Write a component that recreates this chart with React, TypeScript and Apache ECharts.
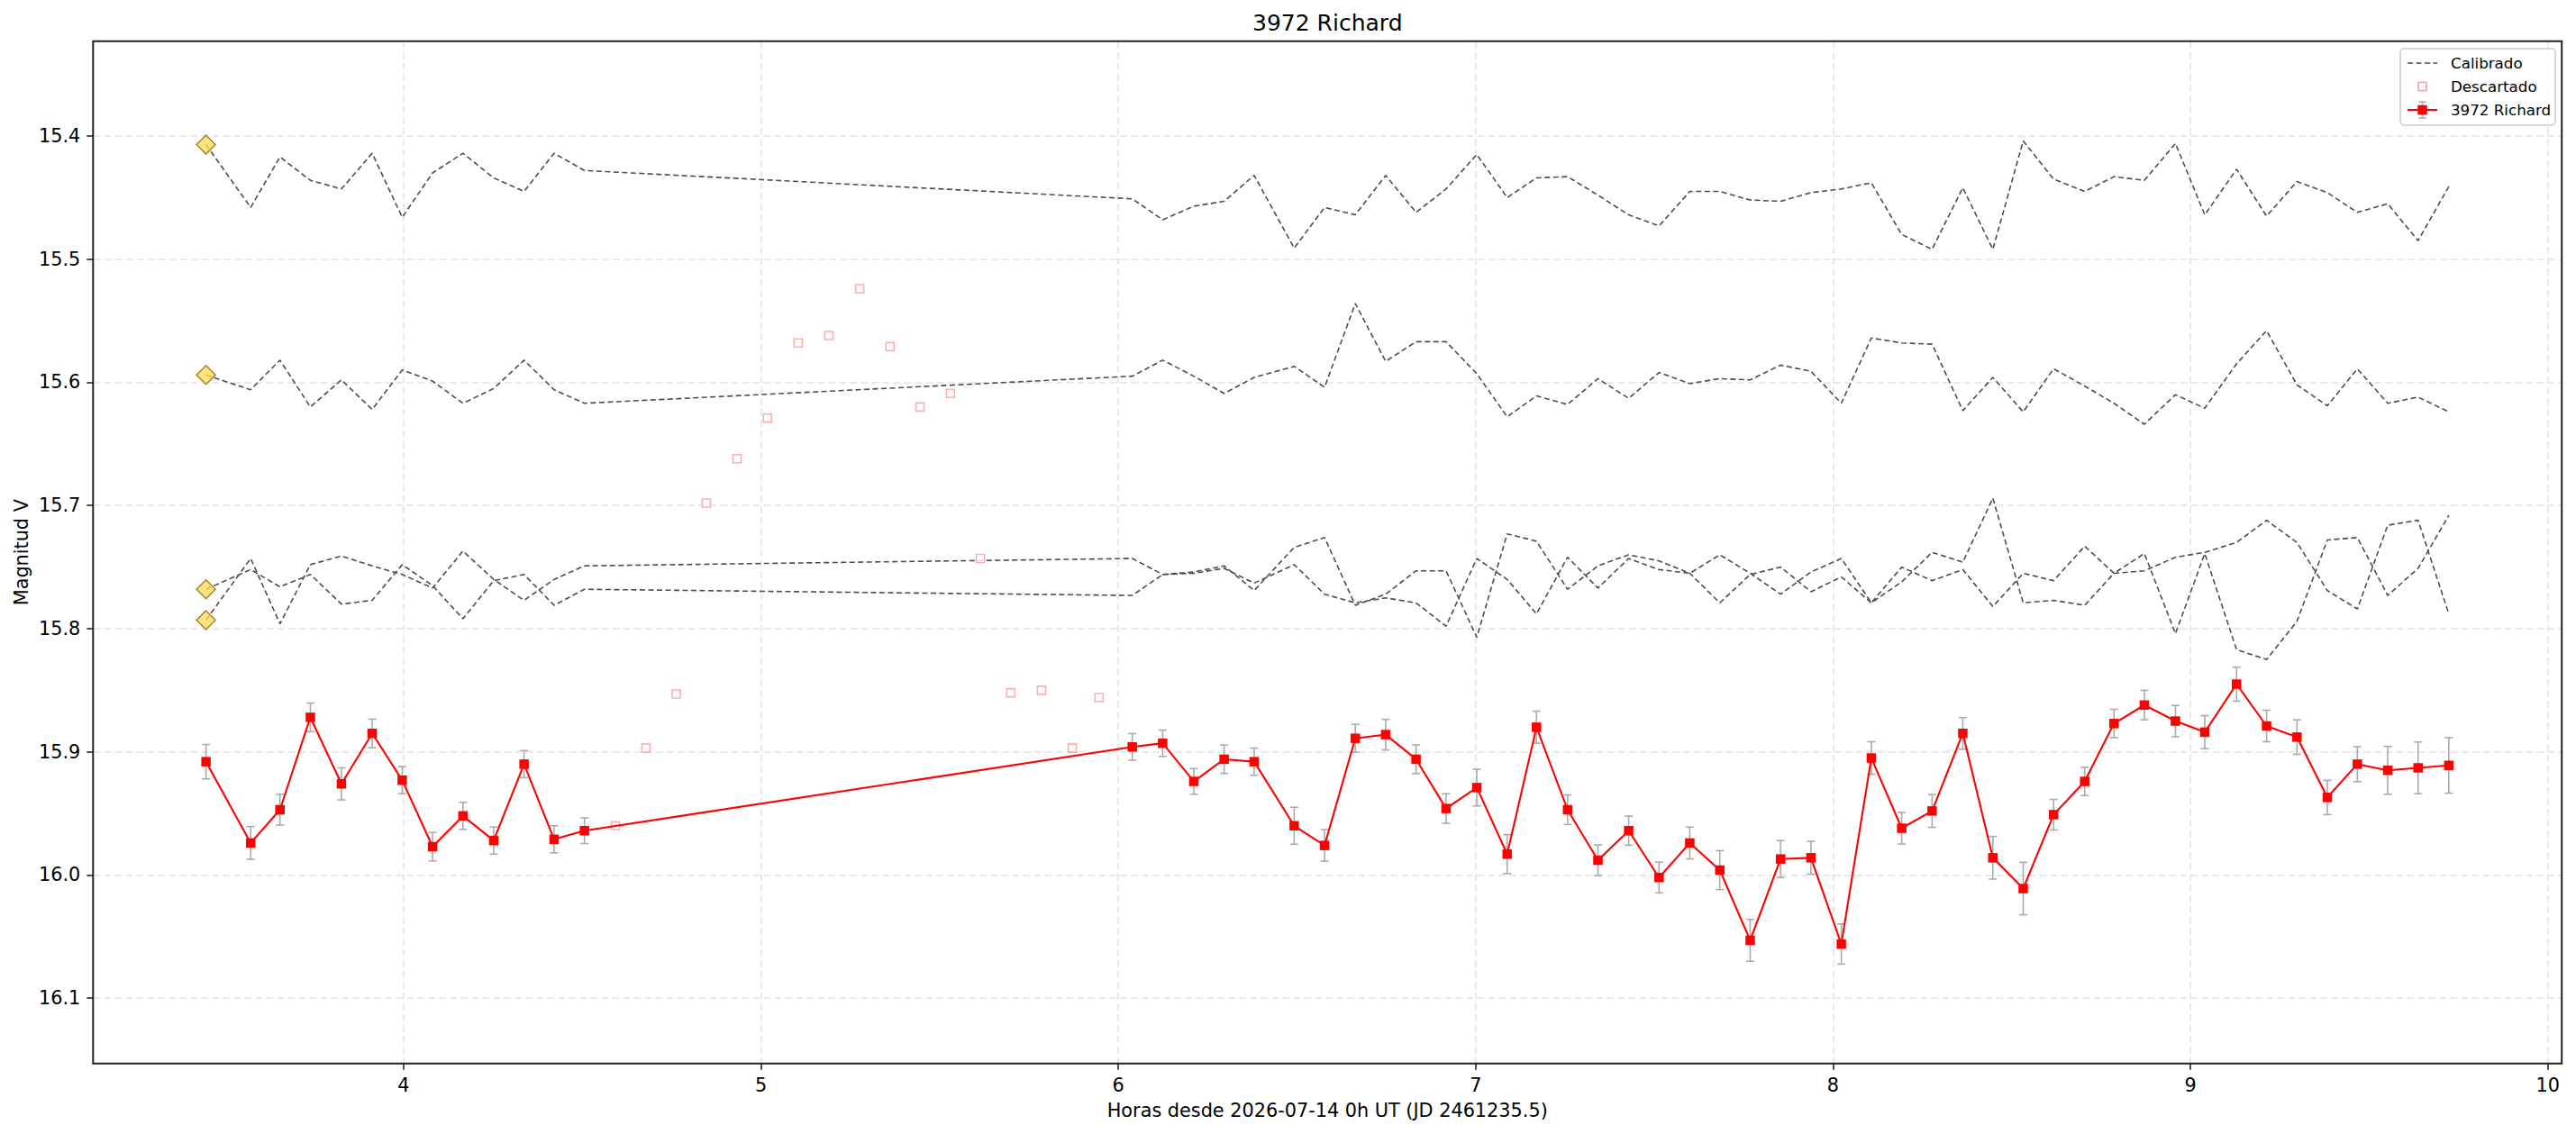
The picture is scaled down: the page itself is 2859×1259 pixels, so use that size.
import React, { useEffect, useRef } from "react";
import * as echarts from "echarts";

const hours = [
  3.447, 3.572, 3.654, 3.739, 3.826, 3.912, 3.996, 4.081, 4.166, 4.252, 4.337, 4.421, 4.506,
  6.039, 6.124, 6.211, 6.296, 6.380, 6.492, 6.577, 6.663, 6.748, 6.833, 6.917, 7.003, 7.088, 7.170, 7.257, 7.342, 7.428, 7.513, 7.599, 7.683, 7.768, 7.853,
  7.938, 8.023, 8.107, 8.192, 8.277, 8.363, 8.447, 8.532, 8.617, 8.704, 8.786, 8.871, 8.958, 9.040, 9.129, 9.213, 9.298, 9.383, 9.467, 9.552, 9.637, 9.723,
];

const richardMag = [
  15.908, 15.974, 15.947, 15.872, 15.926, 15.885, 15.923, 15.977, 15.952, 15.972, 15.910, 15.971, 15.964,
  15.896, 15.893, 15.924, 15.906, 15.908, 15.960, 15.976, 15.889, 15.886, 15.906, 15.946, 15.929, 15.983, 15.880, 15.947, 15.988, 15.964, 16.002, 15.974, 15.996, 16.053, 15.987,
  15.986, 16.056, 15.905, 15.962, 15.948, 15.885, 15.986, 16.011, 15.951, 15.924, 15.877, 15.862, 15.875, 15.884, 15.845, 15.879, 15.888, 15.937, 15.910, 15.915, 15.913, 15.911,
];

const richardErr = [
  0.014, 0.0133, 0.0125, 0.0116, 0.013, 0.0116, 0.011, 0.0115, 0.011, 0.011, 0.011, 0.011, 0.0104,
  0.0108, 0.0107, 0.0104, 0.0115, 0.011, 0.015, 0.0128, 0.0113, 0.0124, 0.0116, 0.012, 0.0149, 0.0158, 0.013, 0.012, 0.0125, 0.0118, 0.0125, 0.0129, 0.0158, 0.017, 0.015,
  0.0133, 0.0163, 0.0132, 0.0128, 0.0133, 0.0128, 0.0173, 0.0213, 0.0124, 0.0115, 0.0115, 0.012, 0.0127, 0.0134, 0.0138, 0.0128, 0.014, 0.0139, 0.0142, 0.0194, 0.021, 0.0225,
];

const calA = [
  15.407, 15.458, 15.417, 15.436, 15.443, 15.414, 15.466, 15.430, 15.414, 15.434, 15.445, 15.414, 15.428,
  15.451, 15.468, 15.457, 15.453, 15.432, 15.491, 15.458, 15.464, 15.432, 15.462, 15.443, 15.415, 15.450, 15.434, 15.433, 15.448, 15.464, 15.473, 15.445, 15.445, 15.452, 15.453,
  15.446, 15.443, 15.438, 15.480, 15.492, 15.442, 15.492, 15.404, 15.435, 15.445, 15.433, 15.436, 15.406, 15.464, 15.427, 15.465, 15.437, 15.446, 15.462, 15.455, 15.485, 15.441,
];

const calB = [
  15.594, 15.606, 15.582, 15.620, 15.598, 15.622, 15.590, 15.599, 15.617, 15.605, 15.582, 15.606, 15.617,
  15.595, 15.582, 15.595, 15.609, 15.596, 15.587, 15.604, 15.536, 15.583, 15.567, 15.567, 15.593, 15.628, 15.611, 15.618, 15.597, 15.613, 15.592, 15.601, 15.597, 15.598, 15.586,
  15.591, 15.617, 15.564, 15.568, 15.569, 15.623, 15.596, 15.624, 15.589, 15.603, 15.617, 15.634, 15.610, 15.621, 15.585, 15.558, 15.602, 15.619, 15.589, 15.617, 15.612, 15.624,
];

const calC = [
  15.768, 15.752, 15.766, 15.756, 15.780, 15.777, 15.748, 15.765, 15.792, 15.761, 15.756, 15.781, 15.768,
  15.773, 15.756, 15.755, 15.751, 15.763, 15.748, 15.772, 15.779, 15.775, 15.779, 15.798, 15.743, 15.760, 15.788, 15.742, 15.767, 15.743, 15.752, 15.755, 15.740, 15.755, 15.772,
  15.754, 15.743, 15.779, 15.750, 15.761, 15.752, 15.782, 15.755, 15.761, 15.733, 15.755, 15.739, 15.804, 15.739, 15.817, 15.825, 15.794, 15.728, 15.726, 15.773, 15.751, 15.708,
];

const calD = [
  15.793, 15.743, 15.796, 15.748, 15.741, 15.749, 15.756, 15.767, 15.737, 15.760, 15.777, 15.760, 15.749,
  15.743, 15.756, 15.754, 15.749, 15.769, 15.734, 15.726, 15.781, 15.772, 15.753, 15.753, 15.807, 15.723, 15.729, 15.768, 15.749, 15.740, 15.745, 15.755, 15.779, 15.756, 15.750,
  15.770, 15.758, 15.779, 15.762, 15.738, 15.746, 15.694, 15.779, 15.777, 15.781, 15.755, 15.753, 15.742, 15.738, 15.730, 15.712, 15.730, 15.769, 15.784, 15.716, 15.712, 15.788,
];

const discHours = [4.593, 4.678, 4.763, 4.847, 4.933, 5.018, 5.104, 5.190, 5.276, 5.361, 5.445, 5.530, 5.614, 5.699, 5.785, 5.871, 5.946];
const discMag = [15.960, 15.897, 15.853, 15.698, 15.662, 15.629, 15.568, 15.562, 15.524, 15.571, 15.620, 15.609, 15.743, 15.852, 15.850, 15.897, 15.856];

const xTicks = [4, 5, 6, 7, 8, 9, 10];
const yTicks = [15.4, 15.5, 15.6, 15.7, 15.8, 15.9, 16.0, 16.1];

const titleText = "3972 Richard";
const xName = "Horas desde 2026-07-14 0h UT (JD 2461235.5)";
const yName = "Magnitud V";
const legendNames = ["Calibrado", "Descartado", "3972 Richard"];

const FONT = "DejaVu Sans";
const W = 2859;
const H = 1259;
const GL = 103.3;
const GT = 45.7;
const GR = 2843.2;
const GB = 1180.7;

export default function App() {
  const ref = useRef<HTMLDivElement>(null);
  useEffect(() => {
    if (!ref.current) return;
    const chart = echarts.init(ref.current, undefined, { renderer: "svg" });
    const zip = (xs: number[], ys: number[]) => xs.map((x, i) => [x, ys[i]]);
    const calLines = [calA, calB, calC, calD];
    const dashStyle = { color: "#4d4d4d", width: 1.6, type: [6, 3.5] as any };
    const gridStyle = { color: "#e2e2e2", width: 1.5, type: [8, 4] as any };

    const series: any[] = [];
    calLines.forEach((c, k) => {
      series.push({
        type: "line",
        name: "Calibrado" + k,
        data: zip(hours, c),
        showSymbol: false,
        symbol: "none",
        lineStyle: dashStyle,
        z: 2,
        silent: true,
      });
    });
    series.push({
      type: "scatter",
      name: "diamonds",
      data: calLines.map((c) => [hours[0], c[0]]),
      symbol: "diamond",
      symbolSize: [21, 21],
      itemStyle: { color: "#ffd95e", borderColor: "#8c6d00", borderWidth: 1.5 },
      z: 3,
    });
    series.push({
      type: "scatter",
      name: "Descartado",
      data: zip(discHours, discMag),
      symbol: "rect",
      symbolSize: 9,
      itemStyle: { color: "#ffffff", borderColor: "#ff9a9a", borderWidth: 1.6 },
      z: 3,
    });
    series.push({
      type: "custom",
      name: "err",
      data: hours.map((h, i) => [h, richardMag[i], richardErr[i]]),
      renderItem: (params: any, api: any) => {
        const x = api.value(0);
        const y = api.value(1);
        const e = api.value(2);
        const p1 = api.coord([x, y - e]);
        const p2 = api.coord([x, y + e]);
        const st = { stroke: "#aaaaaa", lineWidth: 1.6 };
        const cw = 4.5;
        return {
          type: "group",
          children: [
            { type: "line", shape: { x1: p1[0], y1: p1[1], x2: p2[0], y2: p2[1] }, style: st },
            { type: "line", shape: { x1: p1[0] - cw, y1: p1[1], x2: p1[0] + cw, y2: p1[1] }, style: st },
            { type: "line", shape: { x1: p2[0] - cw, y1: p2[1], x2: p2[0] + cw, y2: p2[1] }, style: st },
          ],
        };
      },
      z: 4,
      silent: true,
    });
    series.push({
      type: "line",
      name: "3972 Richard",
      data: zip(hours, richardMag),
      symbol: "rect",
      symbolSize: 10.5,
      showSymbol: true,
      lineStyle: { color: "#ff0000", width: 2.1 },
      itemStyle: { color: "#ff0000" },
      z: 5,
    });

    const lx = 2664;
    const ly = 54;
    const hx1 = 2672;
    const hx2 = 2705;
    const hc = 2688.5;
    const rows = [70, 96, 122];
    const graphic: any[] = [
      {
        type: "text",
        x: (GL + GR) / 2,
        y: 25,
        style: { text: titleText, font: `25px "${FONT}"`, fill: "#000", textAlign: "center", textVerticalAlign: "middle" },
      },
      {
        type: "text",
        x: (GL + GR) / 2,
        y: 1233,
        style: { text: xName, font: `20.8px "${FONT}"`, fill: "#000", textAlign: "center", textVerticalAlign: "middle" },
      },
      {
        type: "text",
        x: 24,
        y: (GT + GB) / 2,
        rotation: Math.PI / 2,
        style: { text: yName, font: `20.8px "${FONT}"`, fill: "#000", textAlign: "center", textVerticalAlign: "middle" },
      },
      {
        type: "rect",
        shape: { x: GL, y: GT, width: GR - GL, height: GB - GT },
        style: { fill: "none", stroke: "#222222", lineWidth: 2 },
        z: 100,
        silent: true,
      },
      {
        type: "group",
        z: 110,
        children: [
          {
            type: "rect",
            shape: { x: lx, y: ly, width: 172, height: 85, r: 4 },
            style: { fill: "rgba(255,255,255,0.85)", stroke: "#cccccc", lineWidth: 1.5 },
            z: 110,
          },
          {
            type: "line",
            shape: { x1: hx1, y1: rows[0], x2: hx2, y2: rows[0] },
            style: { stroke: "#4d4d4d", lineWidth: 1.6, lineDash: [6, 3.5] },
            z: 111,
          },
          {
            type: "rect",
            shape: { x: hc - 4.5, y: rows[1] - 4.5, width: 9, height: 9 },
            style: { fill: "#ffffff", stroke: "#ff9a9a", lineWidth: 1.6 },
            z: 111,
          },
          {
            type: "line",
            shape: { x1: hx1, y1: rows[2], x2: hx2, y2: rows[2] },
            style: { stroke: "#ff0000", lineWidth: 2.1 },
            z: 111,
          },
          {
            type: "line",
            shape: { x1: hc, y1: rows[2] - 9, x2: hc, y2: rows[2] + 9 },
            style: { stroke: "#aaaaaa", lineWidth: 1.6 },
            z: 111,
          },
          {
            type: "line",
            shape: { x1: hc - 4, y1: rows[2] - 9, x2: hc + 4, y2: rows[2] - 9 },
            style: { stroke: "#aaaaaa", lineWidth: 1.6 },
            z: 111,
          },
          {
            type: "line",
            shape: { x1: hc - 4, y1: rows[2] + 9, x2: hc + 4, y2: rows[2] + 9 },
            style: { stroke: "#aaaaaa", lineWidth: 1.6 },
            z: 111,
          },
          {
            type: "rect",
            shape: { x: hc - 5.25, y: rows[2] - 5.25, width: 10.5, height: 10.5 },
            style: { fill: "#ff0000" },
            z: 112,
          },
          ...legendNames.map((n, i) => ({
            type: "text",
            x: 2720,
            y: rows[i],
            style: { text: n, font: `16.7px "${FONT}"`, fill: "#000", textAlign: "left", textVerticalAlign: "middle" },
            z: 112,
          })),
        ],
      },
    ];

    chart.setOption({
      animation: false,
      backgroundColor: "#ffffff",
      textStyle: { fontFamily: FONT },
      grid: { left: GL, top: GT, right: W - GR, bottom: H - GB, containLabel: false },
      xAxis: {
        type: "value",
        min: 3.131,
        max: 10.039,
        axisLine: { show: false },
        axisTick: { show: true, inside: false, length: 7, lineStyle: { color: "#222", width: 1.6 }, customValues: xTicks },
        axisLabel: {
          customValues: xTicks,
          margin: 14,
          fontSize: 20.8,
          fontFamily: FONT,
          color: "#000",
          formatter: (v: number) => (Math.abs(v - Math.round(v)) < 1e-6 ? String(Math.round(v)) : ""),
        },
        splitLine: { show: true, lineStyle: gridStyle },
      },
      yAxis: {
        type: "value",
        inverse: true,
        min: 15.323,
        max: 16.153,
        splitNumber: 8,
        axisLine: { show: false },
        axisTick: { show: true, inside: false, length: 7, lineStyle: { color: "#222", width: 1.6 }, customValues: yTicks },
        axisLabel: {
          customValues: yTicks,
          margin: 14,
          fontSize: 20.8,
          fontFamily: FONT,
          color: "#000",
          formatter: (v: number) => v.toFixed(1),
        },
        splitLine: { show: true, lineStyle: gridStyle },
      },
      series,
      graphic,
    });
    return () => chart.dispose();
  }, []);
  return <div ref={ref} style={{ position: "absolute", left: 0, top: 0, width: W, height: H }} />;
}
